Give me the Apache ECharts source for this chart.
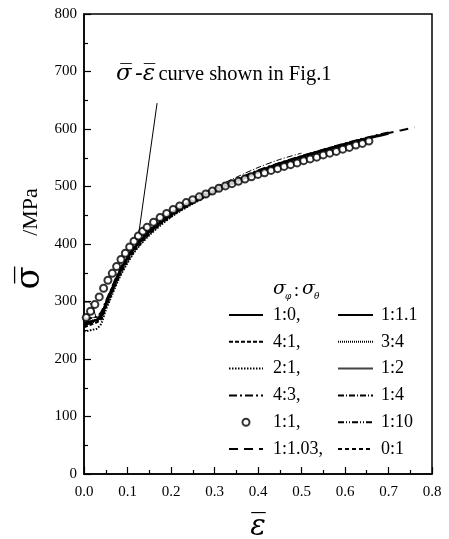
<!DOCTYPE html>
<html><head><meta charset="utf-8">
<script src="https://cdn.jsdelivr.net/npm/echarts@6/dist/echarts.min.js"></script>
<style>html,body{margin:0;padding:0;background:#fff}#c{width:449px;height:539px}</style>
</head><body><div id="c"></div>
<script>
// ---- data ----
const strainGrid = [0, 0.01, 0.02, 0.03, 0.04, 0.05, 0.06, 0.08, 0.10, 0.12, 0.15, 0.18, 0.21, 0.25, 0.30, 0.35, 0.40, 0.45, 0.50, 0.55, 0.60, 0.65, 0.70, 0.73, 0.76];
const stress_1_0   = [262, 264, 266, 268, 275, 295, 312, 348, 376, 397, 421, 440, 456, 473, 492, 510, 526, 540, 552, 563, 573, 583, 592];
const stress_4_1   = [255, 258, 261, 264, 270, 290, 307, 342, 370, 392, 417, 437, 453, 471, 491, 508, 524, 538, 551, 562, 572, 582];
const stress_2_1   = [248, 249, 251, 253, 262, 285, 303, 339, 367, 390, 415, 435, 452, 470, 490, 507, 523, 537, 549, 561, 571];
const stress_4_3   = [268, 270, 272, 274, 282, 300, 317, 352, 379, 400, 424, 443, 459, 476, 495, 512, 528, 541, 553, 564, 575, 585, 594];
const stress_1_103 = [258, 261, 264, 267, 276, 296, 314, 347, 375, 396, 420, 439, 455, 473, 492, 509, 525, 539, 552, 563, 574, 584, 593, 598, 603];
const stress_1_11  = [299, 299, 290, 272, 280, 298, 315, 350, 377, 398, 422, 441, 457, 474, 493, 510, 526, 540, 553, 564, 575, 585, 593];
const stress_3_4   = [265, 267, 268, 270, 278, 297, 315, 349, 376, 397, 421, 440, 456, 474, 493, 510, 525, 539, 552, 563, 573];
const stress_1_2   = [270, 271, 272, 273, 281, 300, 318, 352, 378, 399, 423, 442, 458, 475, 494, 511, 527, 541, 553, 564, 574, 584];
const stress_1_4   = [260, 263, 266, 269, 279, 299, 317, 351, 378, 399, 424, 444, 460, 478, 498, 516, 533, 547, 558];
const stress_1_10  = [263, 265, 267, 269, 277, 296, 314, 348, 375, 396, 420, 439, 455, 473, 492, 509, 525, 539, 551, 562];
const stress_0_1   = [257, 260, 263, 266, 273, 293, 311, 346, 374, 395, 419, 438, 454, 472, 491, 508, 524, 538, 551, 562, 572];
const circleStrain = [0.005, 0.015, 0.025, 0.035, 0.045, 0.055, 0.065, 0.075, 0.085, 0.095, 0.105, 0.115, 0.125, 0.135, 0.145, 0.16, 0.175, 0.19, 0.205, 0.22, 0.235, 0.25, 0.265, 0.28, 0.295, 0.31, 0.325, 0.34, 0.355, 0.37, 0.385, 0.40, 0.415, 0.43, 0.445, 0.46, 0.475, 0.49, 0.505, 0.52, 0.535, 0.55, 0.565, 0.58, 0.595, 0.61, 0.625, 0.64, 0.655];
const circleStress = [272, 283, 295, 308, 323, 337, 349, 361, 373, 384, 395, 405, 414, 422, 429, 438, 446, 453, 460, 466, 472, 477, 482, 487, 492, 497, 501, 505, 509, 513, 517, 521, 524, 528, 531, 535, 538, 541, 545, 548, 551, 555, 558, 561, 565, 568, 572, 575, 579];
const xTickLabels = ['0.0', '0.1', '0.2', '0.3', '0.4', '0.5', '0.6', '0.7', '0.8'];
const leftNames = ['1:0', '4:1', '2:1', '4:3', '1:1', '1:1.03'];
const rightNames = ['1:1.1', '3:4', '1:2', '1:4', '1:10', '0:1'];
const arrowStart = [0.168, 645];
const arrowEnd = [0.126, 419];

// ---- build ----
const pairs = arr => arr.map((v, i) => [strainGrid[i], v]);
const serif = 'Liberation Serif';
function lineSeries(name, arr, width, type, color) {
  return { name, type: 'line', data: pairs(arr), symbol: 'none', smooth: 0.3,
    lineStyle: { color: color || '#000', width, type }, itemStyle: { color: color || '#000' }, z: 2, silent: true };
}
const series = [
  lineSeries('1:1.1', stress_1_11, 1, 'solid'),
  lineSeries('3:4', stress_3_4, 1, [1, 1]),
  lineSeries('1:2', stress_1_2, 1, 'solid', '#444'),
  lineSeries('1:4', stress_1_4, 1, [6, 2, 1, 2]),
  lineSeries('1:10', stress_1_10, 1, [6, 2, 1, 2, 1, 2]),
  lineSeries('0:1', stress_0_1, 1, [4, 3]),
  lineSeries('1:0', stress_1_0, 2.5, 'solid'),
  lineSeries('4:1', stress_4_1, 2, [4, 2]),
  lineSeries('2:1', stress_2_1, 2, [1.5, 1.5]),
  lineSeries('4:3', stress_4_3, 2, [8, 3, 2, 3]),
  lineSeries('1:1.03', stress_1_103, 2, [9, 6]),
  { name: '1:1', type: 'scatter', data: circleStrain.map((e, i) => [e, circleStress[i]]),
    symbol: 'emptyCircle', symbolSize: 7, itemStyle: { color: '#000', borderColor: '#000', borderWidth: 1 }, z: 5, silent: true },
  { name: 'arrow', type: 'line', data: [], z: 8, silent: true,
    markLine: { silent: true, symbol: ['none', 'arrow'], symbolSize: [0, 9],
      lineStyle: { color: '#000', width: 1, type: 'solid' }, label: { show: false }, emphasis: { disabled: true },
      data: [[{ coord: arrowStart }, { coord: arrowEnd }]] } }
];
const hideDot = { color: 'transparent', borderColor: 'transparent', borderWidth: 0, opacity: 0 };
const legendText = { fontFamily: serif, fontSize: 18, color: '#000', lineHeight: 18 };
const option = {
  animation: false,
  backgroundColor: '#fff',
  grid: { left: 84, right: 17, top: 14, bottom: 65, outerBoundsMode: 'none', containLabel: false,
    show: true, borderColor: '#000', borderWidth: 1.5, backgroundColor: 'transparent' },
  xAxis: { type: 'value', min: 0, max: 0.8, interval: 0.1,
    name: 'ε\u0305', nameLocation: 'middle', nameGap: 39,
    nameTextStyle: { fontFamily: 'DejaVu Serif', fontStyle: 'italic', fontSize: 29, color: '#000' },
    axisLine: { lineStyle: { color: '#000', width: 1.5 } },
    axisTick: { inside: true, length: 7, lineStyle: { color: '#000', width: 1.2 } },
    minorTick: { show: true, splitNumber: 2, length: 4, lineStyle: { color: '#000', width: 1.2 } },
    splitLine: { show: false },
    axisLabel: { margin: 11, fontFamily: serif, fontSize: 15, color: '#000', formatter: v => xTickLabels[Math.round(v * 10)] } },
  yAxis: { type: 'value', min: 0, max: 800, interval: 100,
    axisLine: { lineStyle: { color: '#000', width: 1.5 } },
    axisTick: { inside: true, length: 7, lineStyle: { color: '#000', width: 1.2 } },
    minorTick: { show: true, splitNumber: 2, length: 4, lineStyle: { color: '#000', width: 1.2 } },
    splitLine: { show: false },
    axisLabel: { margin: 7, fontFamily: serif, fontSize: 15, color: '#000' } },
  legend: [
    { orient: 'vertical', left: 228, top: 306, padding: 0, itemWidth: 34, itemHeight: 7, itemGap: 8.8, selectedMode: false,
      data: leftNames.map(n => n === '1:1' ? { name: n } : { name: n, itemStyle: hideDot }),
      formatter: n => n + ',', textStyle: Object.assign({ padding: [0, 0, 0, 5] }, legendText) },
    { orient: 'vertical', left: 337, top: 306, padding: 0, itemWidth: 35, itemHeight: 7, itemGap: 8.8, selectedMode: false,
      data: rightNames.map(n => ({ name: n, itemStyle: hideDot })),
      textStyle: Object.assign({ padding: [0, 0, 0, 3] }, legendText) }
  ],
  graphic: [
    { type: 'text', x: 116, y: 63, silent: true, style: { text: '{g|σ\u0305} {g|-}{g|ε\u0305} {t|curve shown in Fig.1}',
      rich: { g: { fontFamily: 'DejaVu Serif', fontStyle: 'italic', fontSize: 23, fill: '#000' },
              t: { fontFamily: serif, fontSize: 20.5, fill: '#000' } } } },
    { type: 'text', x: 273, y: 280, silent: true, style: { text: 'σ', fontFamily: 'DejaVu Serif', fontStyle: 'italic', fontSize: 19, fill: '#000' } },
    { type: 'text', x: 285, y: 292, silent: true, style: { text: 'φ', fontFamily: 'DejaVu Serif', fontStyle: 'italic', fontSize: 9, fill: '#000' } },
    { type: 'text', x: 294, y: 282, silent: true, style: { text: ':', fontFamily: serif, fontSize: 18, fill: '#000' } },
    { type: 'text', x: 302, y: 280, silent: true, style: { text: 'σ', fontFamily: 'DejaVu Serif', fontStyle: 'italic', fontSize: 19, fill: '#000' } },
    { type: 'text', x: 314, y: 292, silent: true, style: { text: 'θ', fontFamily: 'DejaVu Serif', fontStyle: 'italic', fontSize: 9, fill: '#000' } },
    { type: 'text', x: 30, y: 278, rotation: Math.PI / 2, silent: true,
      style: { text: 'σ\u0305', align: 'center', verticalAlign: 'middle', fontFamily: 'DejaVu Serif', fontSize: 34, fill: '#000' } },
    { type: 'text', x: 31, y: 212, rotation: Math.PI / 2, silent: true,
      style: { text: '/MPa', align: 'center', verticalAlign: 'middle', fontFamily: serif, fontSize: 22, fill: '#000' } }
  ],
  series
};
const chart = echarts.init(document.getElementById('c'), null, { renderer: 'canvas' });
chart.setOption(option);
</script></body></html>
